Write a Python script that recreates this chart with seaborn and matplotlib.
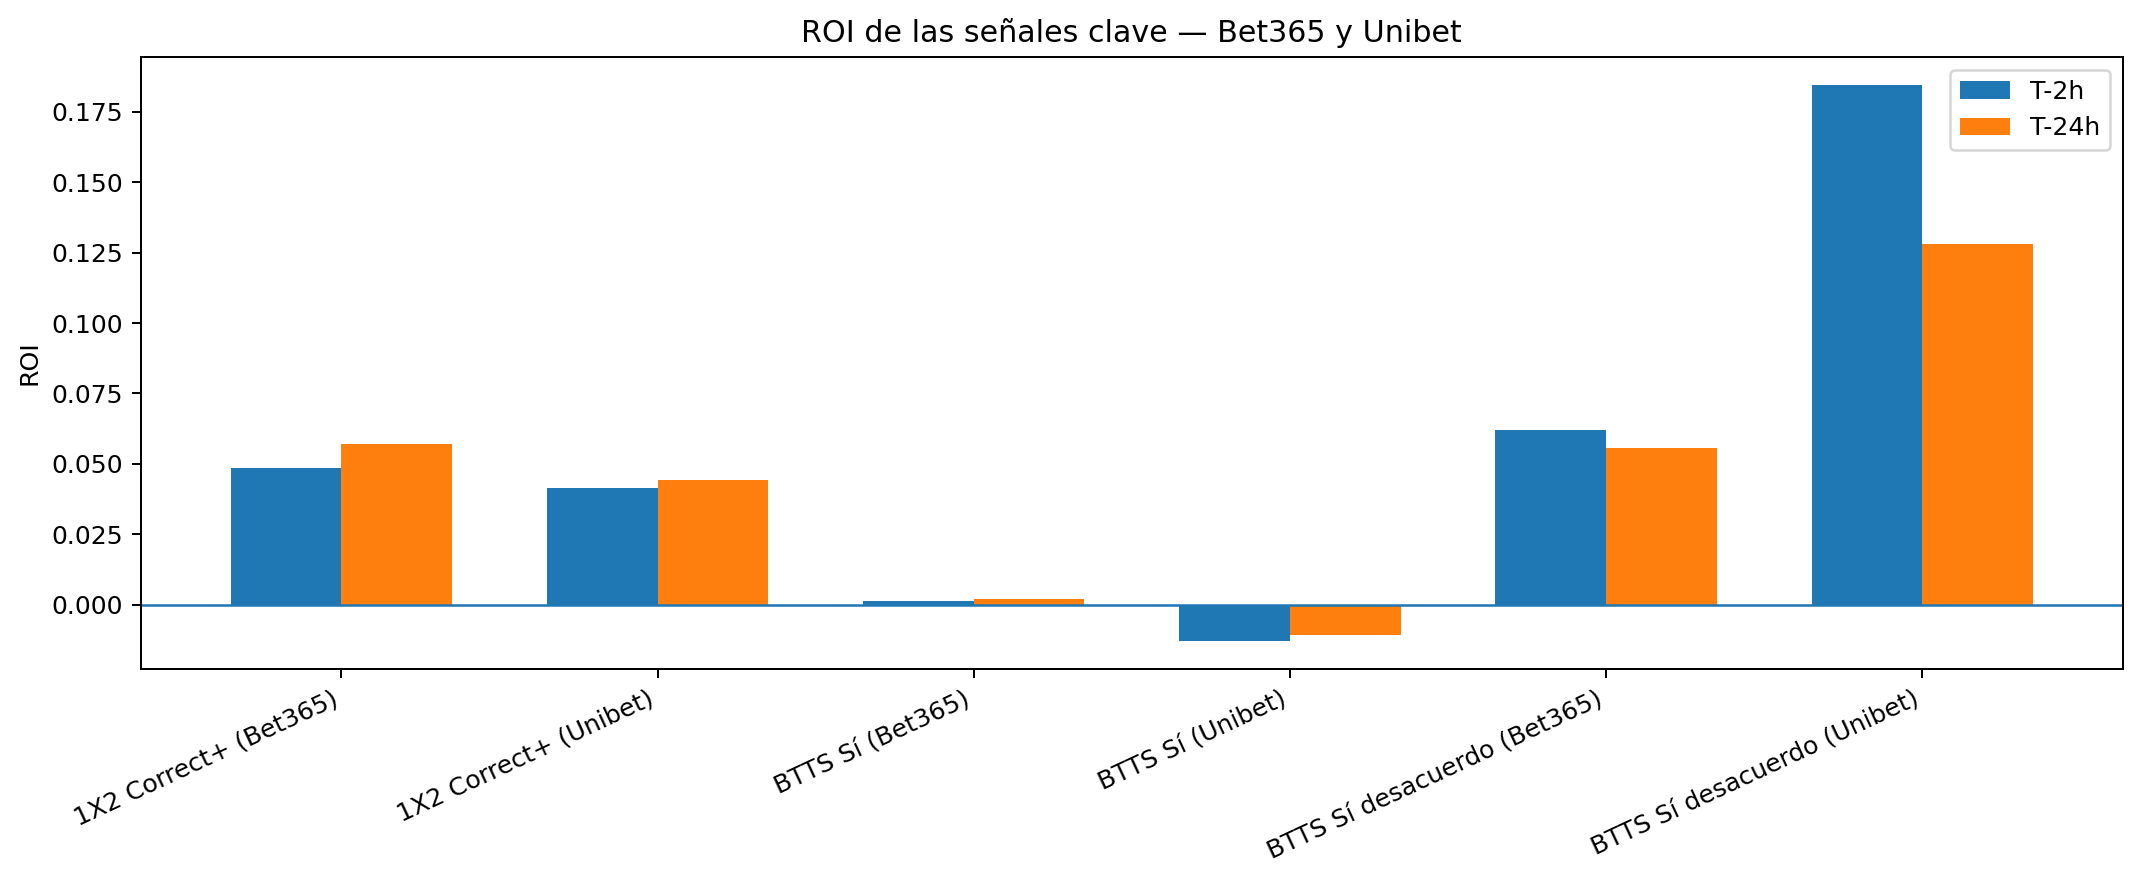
import matplotlib
matplotlib.use("Agg")
import matplotlib.pyplot as plt
import seaborn as sns
import pandas as pd

categories = [
    "1X2 Correct+ (Bet365)",
    "1X2 Correct+ (Unibet)",
    "BTTS Sí (Bet365)",
    "BTTS Sí (Unibet)",
    "BTTS Sí desacuerdo (Bet365)",
    "BTTS Sí desacuerdo (Unibet)",
]
series_names = ["T-2h", "T-24h"]
roi_t2h = [0.0486, 0.0413, 0.0011, -0.0130, 0.0621, 0.1846]
roi_t24h = [0.0570, 0.0441, 0.0021, -0.0109, 0.0557, 0.1281]

df = pd.DataFrame({
    "Señal": categories * 2,
    "Momento": [series_names[0]] * len(categories) + [series_names[1]] * len(categories),
    "ROI": roi_t2h + roi_t24h,
})

DPI = 181
plt.rcParams["font.family"] = ["DejaVu Sans"]
fig = plt.figure(figsize=(2141 / DPI, 882 / DPI), dpi=DPI)
ax = fig.add_axes([0.0657, 0.2415, 0.9916 - 0.0657, 0.9354 - 0.2415])

sns.barplot(data=df, x="Señal", y="ROI", hue="Momento", order=categories,
            hue_order=series_names, palette=["#1f77b4", "#ff7f0e"],
            saturation=1, width=0.7, errorbar=None, linewidth=0, ax=ax)

ax.axhline(0, color="#1f77b4", linewidth=1.0)
ax.set_xlim(-0.635, len(categories) - 1 + 0.635)
ax.set_ylim(-0.0229, 0.1945)
ax.set_xlabel("")
ax.set_ylabel("ROI")
ax.set_title("ROI de las señales clave — Bet365 y Unibet", fontsize=12)
plt.setp(ax.get_xticklabels(), rotation=25, ha="right")
handles, labels = ax.get_legend_handles_labels()
ax.legend(handles, labels, loc="upper right", title=None)

fig.savefig("out.png", dpi=DPI)
